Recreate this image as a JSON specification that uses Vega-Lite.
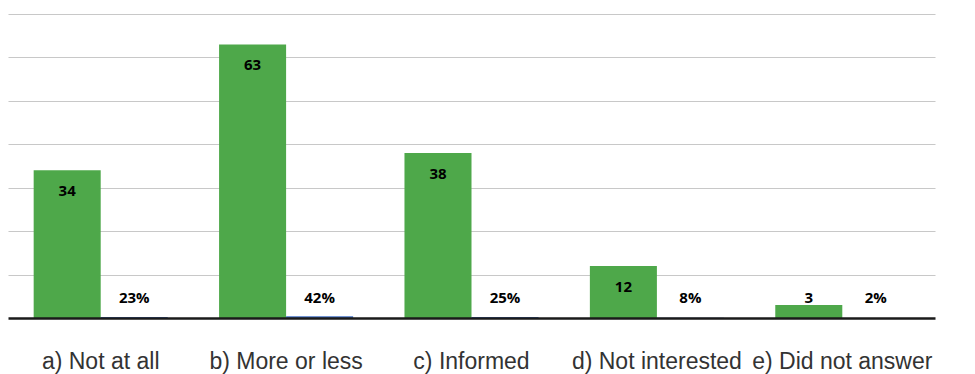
{
  "$schema": "https://vega.github.io/schema/vega-lite/v6.json",
  "width": 927,
  "height": 304,
  "autosize": {"type": "none"},
  "padding": {"left": 8, "top": 14, "right": 40, "bottom": 56},
  "config": {"view": {"stroke": null}},
  "data": {
    "values": [
      {"category": "a) Not at all", "series": "count", "value": 34, "label": "34"},
      {"category": "a) Not at all", "series": "pct", "value": 0.23, "label": "23%"},
      {"category": "b) More or less", "series": "count", "value": 63, "label": "63"},
      {"category": "b) More or less", "series": "pct", "value": 0.42, "label": "42%"},
      {"category": "c) Informed", "series": "count", "value": 38, "label": "38"},
      {"category": "c) Informed", "series": "pct", "value": 0.25, "label": "25%"},
      {"category": "d) Not interested", "series": "count", "value": 12, "label": "12"},
      {"category": "d) Not interested", "series": "pct", "value": 0.08, "label": "8%"},
      {"category": "e) Did not answer", "series": "count", "value": 3, "label": "3"},
      {"category": "e) Did not answer", "series": "pct", "value": 0.02, "label": "2%"}
    ]
  },
  "encoding": {
    "x": {
      "field": "category",
      "type": "nominal",
      "sort": null,
      "scale": {"paddingInner": 0, "paddingOuter": 0},
      "axis": {
        "title": null,
        "labelAngle": 0,
        "ticks": false,
        "domainColor": "#1a1a1a",
        "domainWidth": 2.5,
        "labelFont": "Liberation Sans",
        "labelFontSize": 23,
        "labelColor": "#333333",
        "labelPadding": 32,
        "labelLimit": 400,
        "labelOverlap": false,
        "zindex": 1
      }
    },
    "xOffset": {
      "field": "series",
      "sort": ["count", "pct"],
      "scale": {"paddingInner": 0, "paddingOuter": 0.383}
    }
  },
  "layer": [
    {
      "mark": {"type": "bar"},
      "encoding": {
        "y": {
          "field": "value",
          "type": "quantitative",
          "scale": {"domain": [0, 70], "nice": false},
          "axis": {
            "title": null,
            "labels": false,
            "ticks": false,
            "domain": false,
            "grid": true,
            "gridColor": "#c8c8c8",
            "gridWidth": 1.2,
            "values": [10, 20, 30, 40, 50, 60, 70]
          }
        },
        "color": {
          "field": "series",
          "type": "nominal",
          "scale": {"domain": ["count", "pct"], "range": ["#4ea84a", "#4472c4"]},
          "legend": null
        }
      }
    },
    {
      "transform": [{"filter": "datum.series == 'count' && datum.value >= 10"}],
      "mark": {
        "type": "text",
        "baseline": "middle",
        "dy": 21,
        "font": "Open Sans",
        "fontWeight": "bold",
        "fontSize": 15,
        "color": "#000000"
      },
      "encoding": {
        "y": {"field": "value", "type": "quantitative"},
        "text": {"field": "label"}
      }
    },
    {
      "transform": [{"filter": "datum.series == 'pct' || datum.value < 10"}],
      "mark": {
        "type": "text",
        "baseline": "middle",
        "dy": -20,
        "font": "Open Sans",
        "fontWeight": "bold",
        "fontSize": 15,
        "color": "#000000"
      },
      "encoding": {
        "y": {"datum": 0, "type": "quantitative"},
        "text": {"field": "label"}
      }
    }
  ]
}
